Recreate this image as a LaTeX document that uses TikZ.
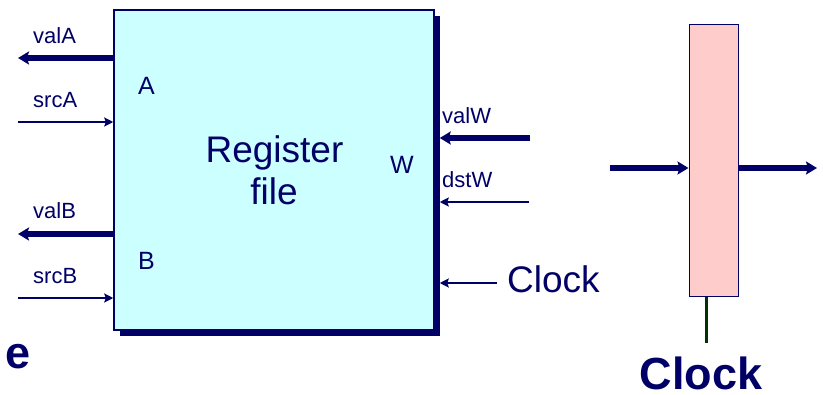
\documentclass[tikz,border=0pt]{standalone}
\usepackage{fontspec}
\setmainfont{Liberation Sans}
\usetikzlibrary{arrows.meta,shadows}
\definecolor{navy}{RGB}{0,0,102}
\definecolor{rfcyan}{RGB}{204,255,255}
\definecolor{regpink}{RGB}{255,204,204}
\definecolor{clkgreen}{RGB}{0,51,0}
\tikzset{
  lbl/.style={inner sep=0pt, text=navy, font=\fontsize{22}{26}\selectfont, anchor=base west},
  port/.style={inner sep=0pt, text=navy, font=\fontsize{25}{30}\selectfont, anchor=base west},
  big/.style={inner sep=0pt, text=navy, font=\fontsize{37}{42}\selectfont},
  bigbold/.style={inner sep=0pt, text=navy, font=\fontsize{45}{50}\selectfont\bfseries},
  thickarr/.style={draw=navy, line width=5.5pt, -{Stealth[length=11pt,width=13pt,inset=2pt]}},
  thinarr/.style={draw=navy, line width=2pt, -{Stealth[length=9pt,width=9pt,inset=1.5pt]}},
}
\begin{document}
\begin{tikzpicture}[x=1pt,y=-1pt]
\useasboundingbox (0,0) rectangle (824,394);
% register file
\node[draw=navy, line width=1.5pt, fill=rfcyan, minimum width=320pt, minimum height=320pt, inner sep=0pt,
      drop shadow={shadow xshift=6pt, shadow yshift=-6pt, fill=navy, opacity=1}] (rf) at (274,170) {};
\node[big, anchor=base] (rfl1) at (274.5,162) {Register};
\node[big, anchor=base] (rfl2) at (274,204) {file};
\node[port] (pA) at (138,94) {A};
\node[port] (pB) at (138,269) {B};
\node[port] (pW) at (390,173) {W};
% left labels
\node[lbl] (valA) at (33,43) {valA};
\node[lbl] (srcA) at (33,107) {srcA};
\node[lbl] (valB) at (33,218) {valB};
\node[lbl] (srcB) at (33,283) {srcB};
% left connectors
\coordinate (vAend) at (18,58);
\coordinate (sAbeg) at (18,122);
\coordinate (vBend) at (18,234);
\coordinate (sBbeg) at (18,298);
\draw[thickarr] (rf.west |- vAend) -- (vAend);
\draw[thinarr] (sAbeg) -- (rf.west |- sAbeg);
\draw[thickarr] (rf.west |- vBend) -- (vBend);
\draw[thinarr] (sBbeg) -- (rf.west |- sBbeg);
% right labels
\node[lbl] (valW) at (442,123) {valW};
\node[lbl] (dstW) at (442,187) {dstW};
\node[big, anchor=base west] (clk1) at (507,292) {Clock};
% right connectors
\coordinate (vWbeg) at (530,138);
\coordinate (dWbeg) at (529,202);
\coordinate (cbeg) at (497,283);
\draw[thickarr] (vWbeg) -- ([xshift=5pt]rf.east |- vWbeg);
\draw[thinarr] (dWbeg) -- ([xshift=5pt]rf.east |- dWbeg);
\draw[thinarr] (cbeg) -- ([xshift=5pt]rf.east |- cbeg);
% pipeline register
\node[draw=navy, line width=1pt, fill=regpink, minimum width=49pt, minimum height=272pt, inner sep=0pt] (pr) at (713.5,160) {};
\coordinate (pin) at (610,168);
\coordinate (pout) at (817,168);
\draw[thickarr] (pin) -- (pr.west |- pin);
\draw[thickarr] (pr.east |- pout) -- (pout);
\coordinate (clkend) at (706,343);
\draw[clkgreen, line width=3pt] (pr.south -| clkend) -- (clkend);
\node[bigbold, anchor=base] (clk2) at (701,389) {Clock};
\node[bigbold, anchor=base east] (etail) at (31,368) {e};
\end{tikzpicture}
\end{document}
